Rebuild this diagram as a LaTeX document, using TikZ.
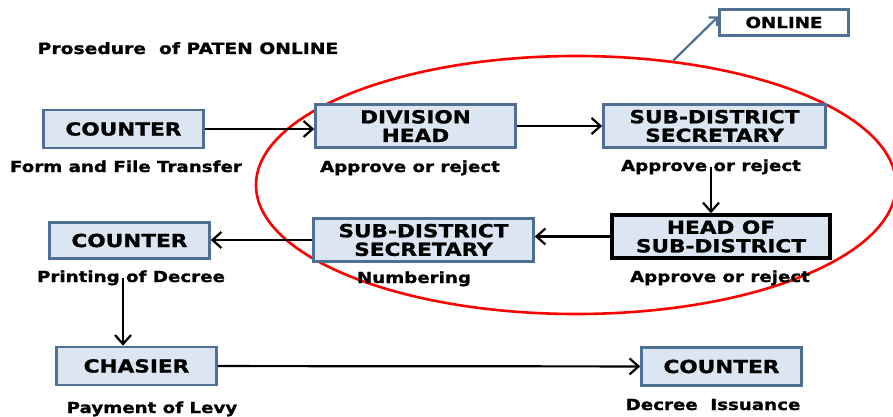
\documentclass[tikz,border=0pt]{standalone}
\usepackage{fontspec}
\setmainfont{DejaVu Sans}[FakeStretch=1.2, BoldFeatures={FakeBold=1.2}]
\usetikzlibrary{arrows.meta,shapes.geometric}
\definecolor{boxfill}{RGB}{220,230,242}
\definecolor{boxline}{RGB}{79,111,149}

\begin{document}
\begin{tikzpicture}[x=0.5pt, y=-0.5pt,
    box/.style = {draw=boxline, fill=boxfill, line width=1.3pt, minimum height=19pt, align=center, inner sep=1pt, font=\fontsize{9}{9.3}\selectfont\bfseries},
    lbl/.style = {anchor=base, inner sep=0pt, font=\fontsize{7.6}{8}\selectfont\bfseries},
    flow/.style = {line width=1.1pt, -{Straight Barb[length=4.5pt, width=8pt]}}
  ]
  \useasboundingbox (0,0) rectangle (893,417);

  % online part of the procedure
  \node[ellipse, draw=red, line width=1.3pt, minimum width=320pt, minimum height=129pt, inner sep=0pt] (zone) at (576,185) {};

  \node[lbl, font=\fontsize{7.8}{8}\selectfont\bfseries] (title) at (188,54) {Prosedure\ \ of PATEN ONLINE};

  \node[box, minimum width=80pt] (cnt1) at (123.5,129) {COUNTER};
  \node[box, minimum width=100pt, minimum height=21.5pt] (divhead) at (415.5,126) {DIVISION\\HEAD};
  \node[box, minimum width=111pt, minimum height=21.5pt] (sds1) at (714.5,126) {SUB-DISTRICT\\SECRETARY};
  \node[box, fill=white, minimum width=64.5pt, minimum height=13pt, font=\fontsize{7.6}{8}\selectfont\bfseries] (online) at (784,22.5) {ONLINE};
  \node[box, draw=black, line width=1.7pt, minimum width=109pt, minimum height=21.5pt] (hosd) at (721,236.5) {HEAD OF\\SUB-DISTRICT};
  \node[box, minimum width=110pt, minimum height=21.5pt] (sds2) at (423.5,240) {SUB-DISTRICT\\SECRETARY};
  \node[box, minimum width=80pt, minimum height=18pt] (cnt2) at (129.5,240.5) {COUNTER};
  \node[box, minimum width=80pt] (cashier) at (136.5,366) {CHASIER};
  \node[box, minimum width=80pt] (cnt3) at (721.5,366.5) {COUNTER};

  \node[lbl] (formlbl) at (126,172) {Form and File Transfer};
  \node[lbl] (divlbl) at (410,172) {Approve or reject};
  \node[lbl] (sds1lbl) at (711,171) {Approve or reject};
  \node[lbl] (numlbl) at (414,283) {Numbering};
  \node[lbl] (hosdlbl) at (720,282) {Approve or reject};
  \node[lbl] (prtlbl) at (131,282) {Printing of Decree};
  \node[lbl] (paylbl) at (152,413) {Payment of Levy};
  \node[lbl] (isslbl) at (713,410) {Decree\ \ Issuance};

  % flow between the desks
  \draw[flow] (cnt1.east) -- (cnt1.east -| divhead.west);
  \draw[flow] (divhead) -- (sds1);
  \draw[flow] (sds1lbl.center) -- (sds1lbl.center |- hosd.north);
  \draw[flow] (hosd.west) -- (hosd.west -| sds2.east);
  \draw[flow] (sds2.west) -- (sds2.west -| cnt2.east);
  \draw[flow] ([xshift=-4pt]prtlbl.center) -- ([xshift=-4pt]prtlbl.center |- cashier.north);
  \draw[flow] (cashier) -- (cnt3);

  \draw[boxline, line width=1.1pt, -{Straight Barb[length=3pt]}] (zone.52) -- ([yshift=3pt]online.west);
\end{tikzpicture}
\end{document}
